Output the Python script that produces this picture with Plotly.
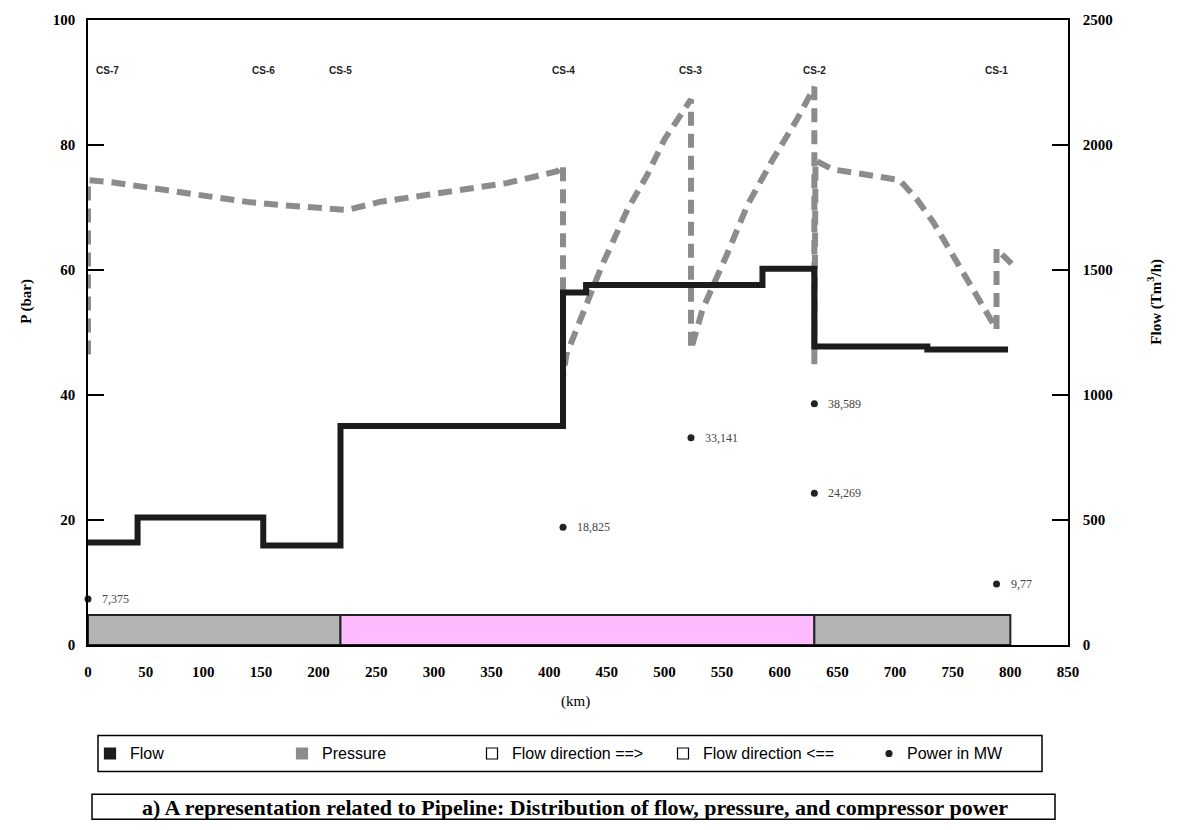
import plotly.graph_objects as go

# ---------------- data ----------------
# Flow (Tm3/h) along pipeline, step profile (km where value starts)
flow_km = [0, 43, 152, 219, 412, 432, 585, 630, 728, 798]
flow_val = [410, 510, 398, 876, 1410, 1440, 1505, 1194, 1182, 1182]

# Pressure (bar)
p_km = [0, 0, 22, 51, 74, 108, 138, 167, 195, 213, 225, 253, 280, 320, 363, 389, 407, 412,
        412, 415, 446, 468, 485, 500, 518, 523,
        523, 533, 554, 572, 594, 615, 630,
        630, 631, 646, 674, 704, 719, 733, 750, 769, 785, 788,
        788, 801]
p_val = [46.5, 74.4, 74.0, 73.2, 72.5, 71.7, 70.9, 70.4, 70.0, 69.6, 69.6, 70.9, 71.6, 72.8, 73.9, 75.0, 75.8, 76.8,
         43.0, 46.5, 60.8, 69.7, 75.2, 80.9, 86.0, 87.3,
         47.3, 53.7, 62.4, 70.4, 77.7, 84.1, 89.3,
         44.9, 77.5, 76.1, 75.2, 74.4, 71.3, 67.7, 62.4, 56.5, 51.3, 50.5,
         63.4, 61.0]

# Compressor power (MW)
power_km = [0, 412, 523, 630, 630, 788]
power_val = [7.375, 18.825, 33.141, 38.589, 24.269, 9.77]
power_lbl = ["7,375", "18,825", "33,141", "38,589", "24,269", "9,77"]

# Compressor stations
cs_names = ["CS-7", "CS-6", "CS-5", "CS-4", "CS-3", "CS-2", "CS-1"]
cs_km = [0, 152, 219, 412, 523, 630, 788]
cs_label_y = 92

# Flow direction segments
seg_start = [0, 219, 630]
seg_end = [219, 630, 800]
seg_dir = ["==>", "<==", "==>"]
seg_height = 4.8

x_ticks = list(range(0, 851, 50))

# legend entries
legend_names = ["Flow", "Pressure", "Flow direction ==>", "Flow direction <==", "Power in MW"]

# ---------------- figure ----------------
GRAY_BAR = "#b3b3b3"
PINK_BAR = "#ffbbff"
P_COLOR = "#8c8c8c"
F_COLOR = "#1c1c1c"
SERIF = "Liberation Serif, Times New Roman, serif"
SANS = "Liberation Sans, Arial, sans-serif"

W, H = 1180, 830
ML, MR, MT, MB = 88, 112, 17, 185
PW, PH = W - ML - MR, H - MT - MB


def px(xpix):
    return (xpix - ML) / PW


def py(ypix):
    return (H - MB - ypix) / PH


fig = go.Figure()

# direction bars
for s, e, d in zip(seg_start, seg_end, seg_dir):
    fig.add_shape(type="rect", xref="x", yref="y", x0=s, x1=e, y0=0, y1=seg_height,
                  fillcolor=GRAY_BAR if d == "==>" else PINK_BAR,
                  line=dict(color="#222", width=2), layer="below")

# flow (right axis)
fig.add_trace(go.Scatter(x=flow_km, y=flow_val, yaxis="y2", mode="lines", name="Flow",
                         line=dict(color=F_COLOR, width=6, shape="hv"), showlegend=False))

# pressure (left axis)
fig.add_trace(go.Scatter(x=p_km, y=p_val, mode="lines", name="Pressure",
                         line=dict(color=P_COLOR, width=6, dash="14px,8px"), showlegend=False))

# power points
fig.add_trace(go.Scatter(x=power_km, y=power_val, mode="markers", name="Power in MW",
                         marker=dict(color="#222", size=7), showlegend=False, cliponaxis=False))
for k, v, t in zip(power_km, power_val, power_lbl):
    fig.add_annotation(x=k, y=v, text=t, showarrow=False, xanchor="left", yanchor="middle", xshift=12,
                       font=dict(family=SERIF, size=12, color="#444"))

# station labels
for i, (n, k) in enumerate(zip(cs_names, cs_km)):
    fig.add_annotation(x=k, y=cs_label_y, text=n, showarrow=False, yanchor="middle",
                       xanchor="left" if i == 0 else "center", xshift=6 if i == 0 else 0,
                       font=dict(family=SANS, size=10, color="#222", weight="bold"))

# ---- custom legend box ----
leg_y = py(754)
fig.add_shape(type="rect", xref="paper", yref="paper", x0=px(98), x1=px(1042), y0=py(736), y1=py(772),
              line=dict(color="black", width=1.5))
leg_sym_x = [110, 302, 492, 683, 889]
leg_txt_x = [128, 320, 510, 701, 905]
leg_sym = [("rect", F_COLOR, F_COLOR, 11), ("rect", P_COLOR, P_COLOR, 11),
           ("rect", "white", "black", 11), ("rect", "white", "black", 11),
           ("circle", "#222", "#222", 6)]
for name, sx, tx, (kind, fc, lc, sz) in zip(legend_names, leg_sym_x, leg_txt_x, leg_sym):
    fig.add_shape(type=kind, xref="paper", yref="paper", xsizemode="pixel", ysizemode="pixel",
                  xanchor=px(sx), yanchor=leg_y, x0=-sz / 2, x1=sz / 2, y0=-sz / 2, y1=sz / 2,
                  fillcolor=fc, line=dict(color=lc, width=1.2))
    fig.add_annotation(xref="paper", yref="paper", x=px(tx), y=leg_y, text=name, showarrow=False,
                       xanchor="left", yanchor="middle", font=dict(family=SANS, size=16, color="black"))

# ---- caption box ----
fig.add_shape(type="rect", xref="paper", yref="paper", x0=px(92), x1=px(1055), y0=py(795), y1=py(820),
              line=dict(color="black", width=1.5))
fig.add_annotation(xref="paper", yref="paper", x=px(575), y=py(808), showarrow=False,
                   xanchor="center", yanchor="middle",
                   text="a) A representation related to Pipeline: Distribution of flow, pressure, and compressor power",
                   font=dict(family=SERIF, size=22, color="black", weight="bold"))

# axis titles
fig.add_annotation(xref="paper", yref="paper", x=px(27), y=py(300), showarrow=False, textangle=-90,
                   xanchor="center", yanchor="middle",
                   text="P (bar)", font=dict(family=SERIF, size=15, color="black", weight="bold"))
fig.add_annotation(xref="paper", yref="paper", x=px(1155), y=py(300), showarrow=False, textangle=-90,
                   xanchor="center", yanchor="middle",
                   text="Flow (Tm<sup>3</sup>/h)", font=dict(family=SERIF, size=15, color="black", weight="bold"))
fig.add_annotation(xref="paper", yref="paper", x=px(575), y=py(702), showarrow=False,
                   xanchor="center", yanchor="middle",
                   text="(km)", font=dict(family=SERIF, size=15, color="black"))

tickfont = dict(family=SERIF, size=15, color="black", weight="bold")

fig.update_layout(
    width=W, height=H,
    margin=dict(l=ML, r=MR, t=MT, b=MB),
    plot_bgcolor="white", paper_bgcolor="white",
    showlegend=False,
    xaxis=dict(range=[0, 850], tickvals=x_ticks, ticks="", showgrid=False, zeroline=False,
               showline=True, linecolor="black", linewidth=1.5, mirror=True,
               tickfont=tickfont, ticklabelstandoff=12),
    yaxis=dict(range=[0, 100], dtick=20, ticks="inside", ticklen=16, tickcolor="black", tickwidth=1.5,
               showgrid=False, zeroline=False, showline=True, linecolor="black", linewidth=1.5,
               tickfont=tickfont, ticklabelstandoff=8),
    yaxis2=dict(range=[0, 2500], dtick=500, ticks="inside", ticklen=16, tickcolor="black", tickwidth=1.5,
                overlaying="y", side="right", showgrid=False, zeroline=False, showline=True,
                linecolor="black", linewidth=1.5, tickfont=tickfont, ticklabelstandoff=10),
)

fig.write_html("out.html")
